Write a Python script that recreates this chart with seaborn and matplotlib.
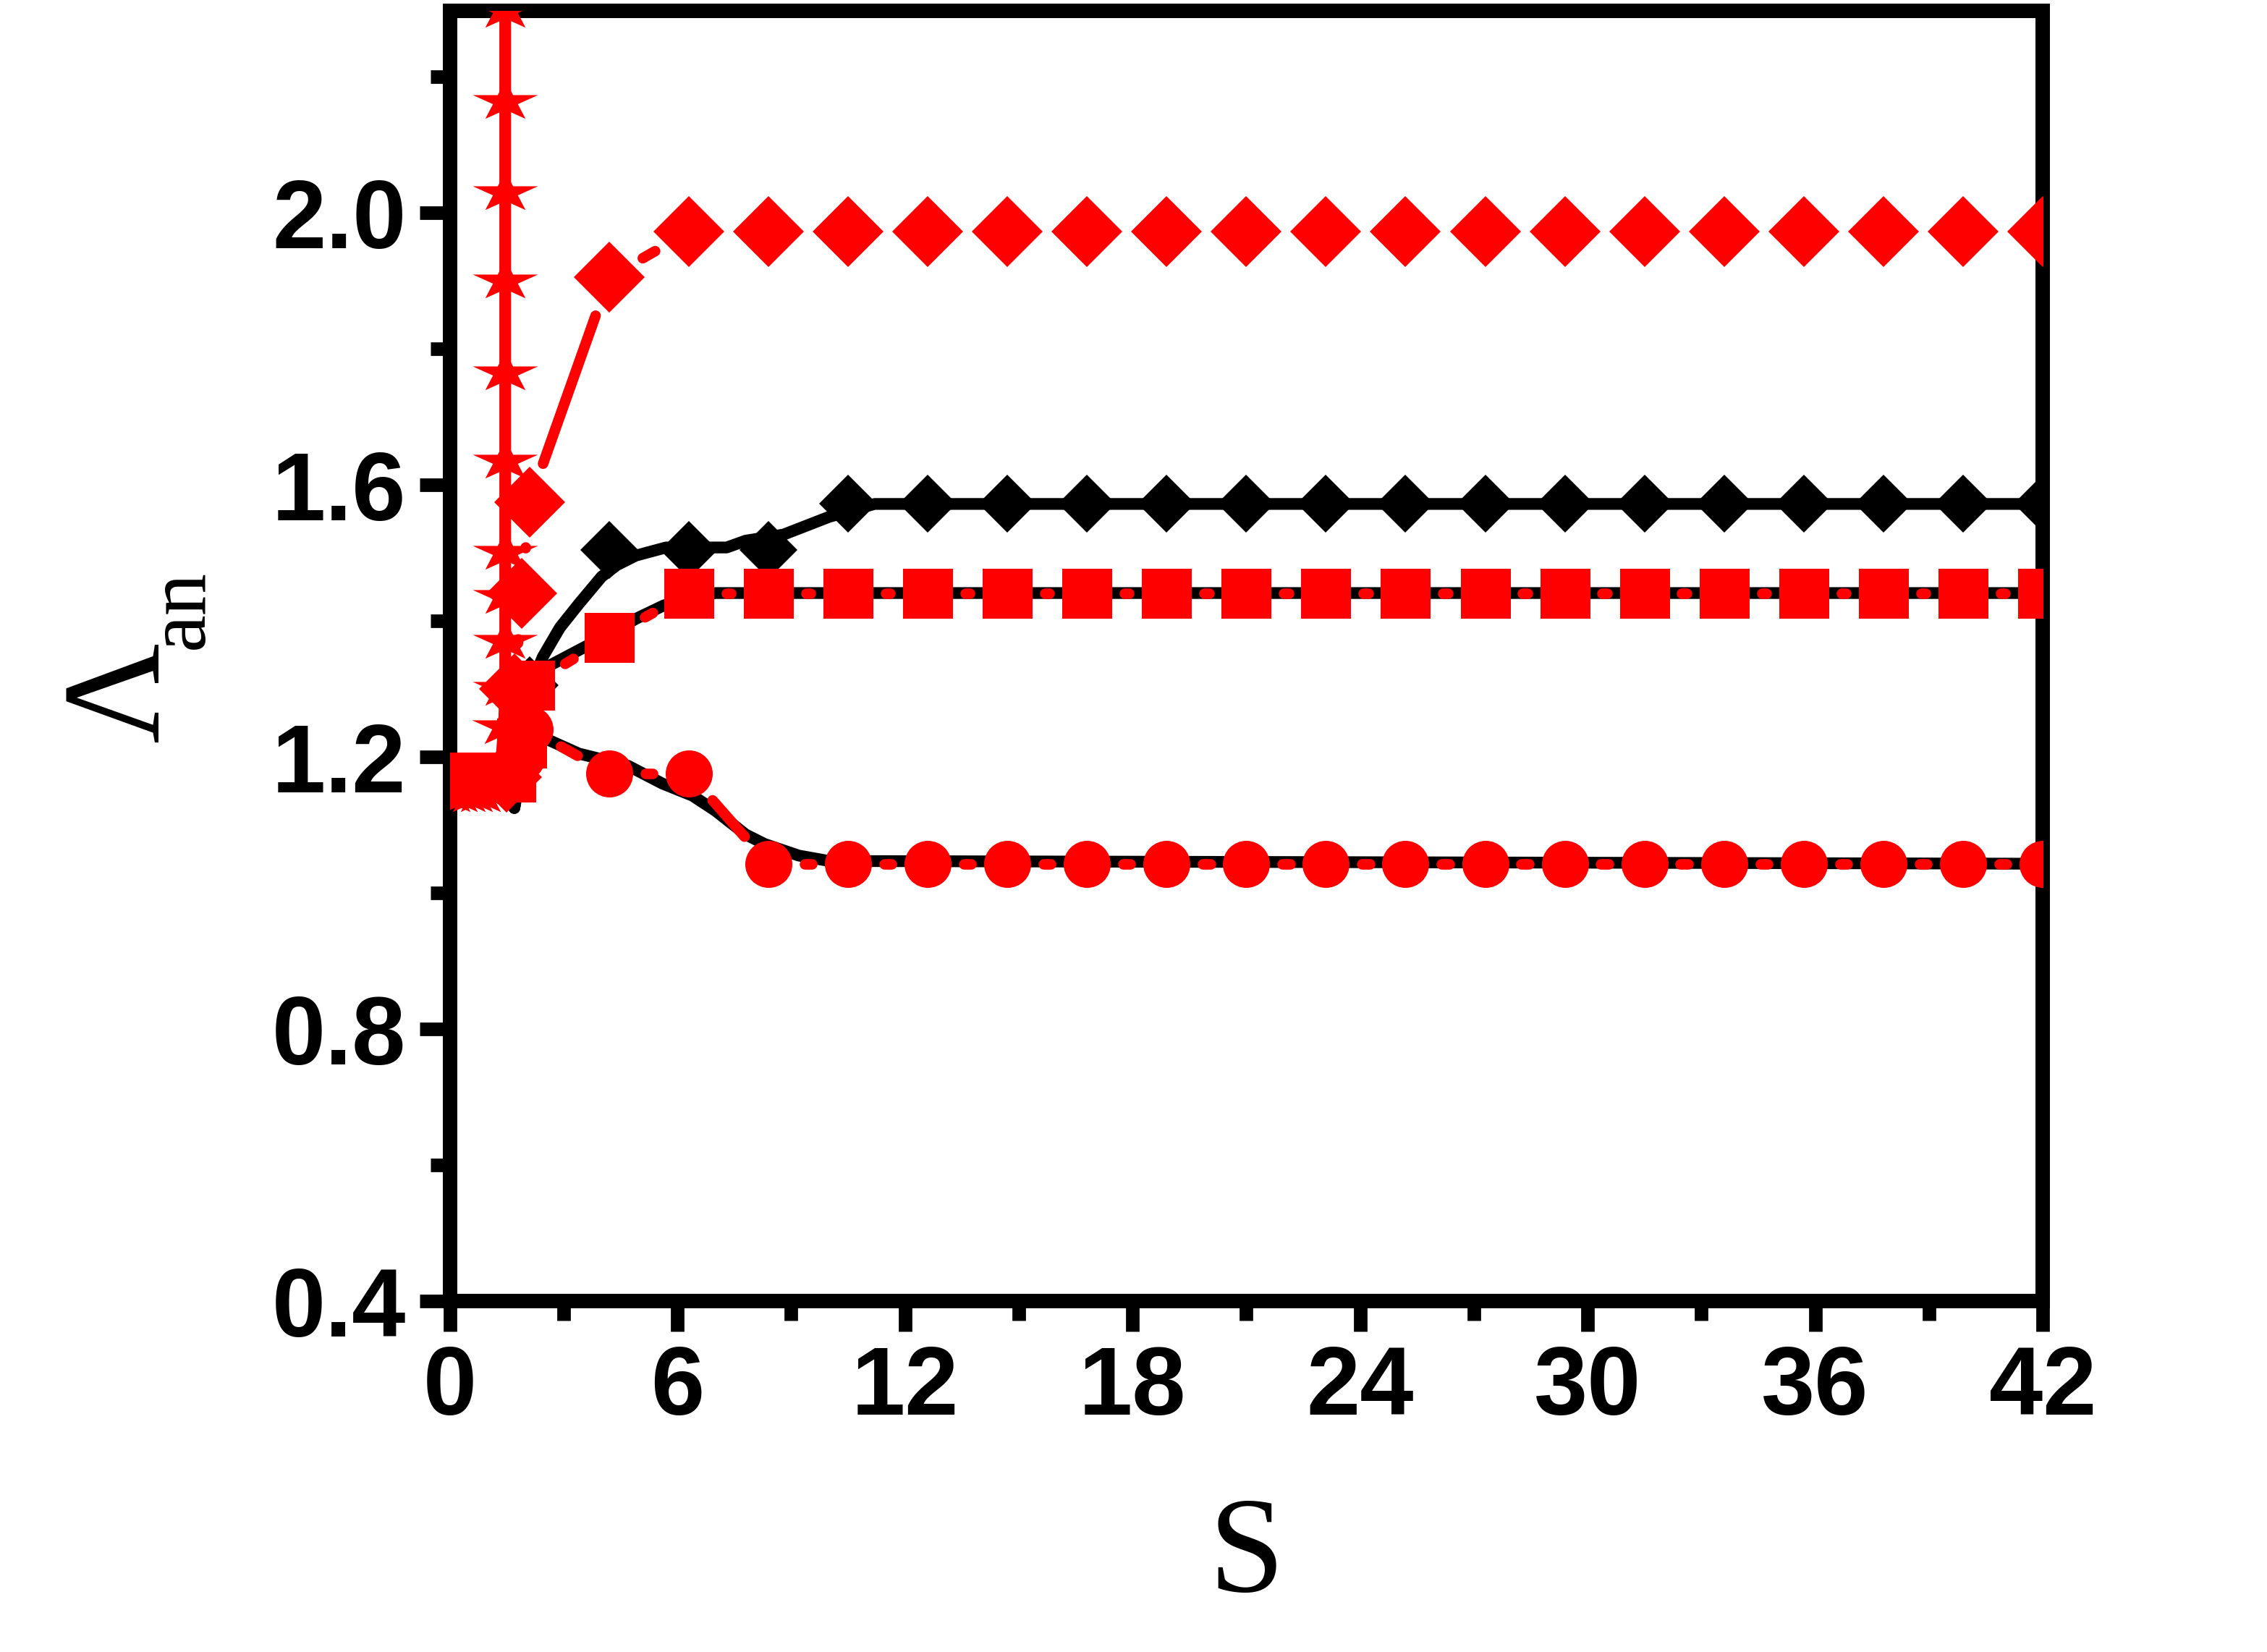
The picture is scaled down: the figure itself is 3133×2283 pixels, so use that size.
"""
Lambda_an versus S: black reference curves and red symbol series.
"""

import numpy as np
import matplotlib
matplotlib.use("Agg")
import matplotlib.pyplot as plt
from matplotlib.path import Path
from matplotlib.ticker import MultipleLocator, FormatStrFormatter
import seaborn as sns

# =========================
# DATA
# =========================

# common S grid of the plateau points
s_grid = [4.2, 6.3, 8.4, 10.5, 12.6, 14.7, 16.8, 18.9, 21.0, 23.1,
          25.2, 27.3, 29.4, 31.5, 33.6, 35.7, 37.8, 39.9, 42.0]

# red diamonds (upper branch)
red_diam_x = [1.5, 1.7, 1.9, 2.1] + s_grid
red_diam_y = [1.17, 1.30, 1.44, 1.575, 1.905] + [1.972] * 18

# black diamonds + their black curve
blk_diam_x = [2.1] + s_grid
blk_diam_y = [1.305, 1.504, 1.504, 1.504] + [1.572] * 16
blk_diam_line_x = [1.7, 2.1, 2.45, 2.9, 3.4, 4.0, 4.4, 4.9, 5.7, 7.3, 7.8, 8.8, 10.0, 11.2, 12.6, 42.0]
blk_diam_line_y = [1.125, 1.30, 1.347, 1.39, 1.425, 1.465, 1.482, 1.496, 1.508, 1.508, 1.518,
                   1.527, 1.553, 1.572, 1.572, 1.572]

# red squares + black curve below them
red_sq_x = [0.0, 0.4, 0.8, 1.2, 1.6, 1.9, 2.1] + s_grid
red_sq_y = [1.17, 1.17, 1.17, 1.17, 1.17, 1.22, 1.305, 1.376] + [1.441] * 18
blk_sq_line_x = [1.7, 2.1, 2.65, 3.5, 4.2, 4.9, 5.65, 7.0, 42.0]
blk_sq_line_y = [1.125, 1.30, 1.335, 1.36, 1.38, 1.403, 1.423, 1.441, 1.441]

# red circles + black curve below them
red_circ_x = [1.6, 1.9, 2.1] + s_grid
red_circ_y = [1.17, 1.20, 1.241, 1.176, 1.176] + [1.043] * 17
blk_circ_line_x = [1.7, 2.1, 2.6, 3.4, 4.7, 5.6, 6.4, 7.0, 7.8, 8.3, 9.2, 10.0, 42.0]
blk_circ_line_y = [1.125, 1.241, 1.225, 1.205, 1.187, 1.161, 1.143, 1.121, 1.086,
                   1.072, 1.055, 1.047, 1.043]

# red stars (diverging branch)
star_x = [0.0, 0.2, 0.4, 0.6, 0.8, 1.0, 1.2, 1.35, 1.43, 1.46,
          1.46, 1.46, 1.46, 1.46, 1.46, 1.46, 1.46, 1.46, 1.46, 1.46]
star_y = [1.145, 1.145, 1.145, 1.145, 1.145, 1.15, 1.17, 1.19, 1.245, 1.301,
          1.370, 1.436, 1.501, 1.635, 1.765, 1.900, 2.030, 2.164, 2.298, 2.43]

x_ticks_major = 6
x_ticks_minor = 3
y_ticks_major = 0.4
y_ticks_minor = 0.2

DPI = 300
PT = DPI / 72.0  # pixels per point

RED = "#ff0000"
BLACK = "#000000"
SERIF = ["Liberation Serif", "DejaVu Serif"]


def squashed_star(yscale=0.62):
    """Five-pointed star flattened vertically, like the original symbol."""
    k = np.arange(10)
    ang = np.deg2rad(90 + 36 * k)
    rad = np.where(k % 2 == 0, 1.0, 0.382)
    verts = np.column_stack([rad * np.cos(ang), rad * np.sin(ang) * yscale])
    verts = np.vstack([verts, verts[:1]])
    codes = [Path.MOVETO] + [Path.LINETO] * 9 + [Path.CLOSEPOLY]
    return Path(verts, codes)


def edge_dist(shape, half, ux, uy):
    """Distance from symbol centre to its outline along direction (ux, uy), px."""
    if shape == "s":
        return half / max(abs(ux), abs(uy))
    if shape == "D":
        return half / (abs(ux) + abs(uy))
    return half


def gapped_line(ax, xs, ys, shape, half_px, lw=3.5, gap_px=10, color=RED, zorder=2.4):
    """
    Connect points with a line that stops short of each symbol,
    the way Origin leaves a gap around symbols.
    """
    pts = ax.transData.transform(np.column_stack([xs, ys]))
    inv = ax.transData.inverted()
    cap = lw * PT / 2
    for p0, p1 in zip(pts[:-1], pts[1:]):
        d = p1 - p0
        L = np.hypot(*d)
        if L == 0:
            continue
        u = d / L
        t = edge_dist(shape, half_px, u[0], u[1]) + gap_px + cap
        if L <= 2 * t:
            continue
        seg = inv.transform(np.array([p0 + u * t, p1 - u * t]))
        ax.plot(seg[:, 0], seg[:, 1], color=color, lw=lw,
                solid_capstyle="round", zorder=zorder)


# =========================
# STYLE
# =========================

sns.set_style("ticks")
plt.rcParams["font.family"] = ["Liberation Sans", "DejaVu Sans"]

fig = plt.figure(figsize=(3133 / DPI, 2283 / DPI), dpi=DPI)
ax = fig.add_axes([621.7 / 3133, 1 - 1798 / 2283, 2201.3 / 3133, 1783 / 2283])
ax.set_xlim(0, 42)
ax.set_ylim(0.4, 2.297)

# =========================
# BLACK CURVES
# =========================

for lx, ly in [(blk_diam_line_x, blk_diam_line_y),
               (blk_sq_line_x, blk_sq_line_y),
               (blk_circ_line_x, blk_circ_line_y)]:
    sns.lineplot(x=lx, y=ly, ax=ax, color=BLACK, lw=3.9, sort=False,
                 estimator=None, zorder=2)

ax.plot(blk_diam_x, blk_diam_y, ls="none", marker="D", ms=56.6 / PT,
        mew=0, color=BLACK, zorder=2.2)

# =========================
# RED SERIES
# =========================

gapped_line(ax, red_diam_x, red_diam_y, "D", 49.5)
gapped_line(ax, red_sq_x, red_sq_y, "s", 34.5)
gapped_line(ax, red_circ_x, red_circ_y, "o", 32.5)

sns.lineplot(x=star_x, y=star_y, ax=ax, color=RED, lw=3.9, sort=False,
             estimator=None, zorder=2.4)

ax.plot(star_x, star_y, ls="none", marker=squashed_star(), ms=90 / PT,
        mew=0, color=RED, zorder=3)
ax.plot(red_diam_x, red_diam_y, ls="none", marker="D", ms=70 / PT,
        mew=0, color=RED, zorder=3)
ax.plot(red_circ_x, red_circ_y, ls="none", marker="o", ms=65 / PT,
        mew=0, color=RED, zorder=3)
ax.plot(red_sq_x, red_sq_y, ls="none", marker="s", ms=69 / PT,
        mew=0, color=RED, zorder=3)

# =========================
# AXES
# =========================

for sp in ax.spines.values():
    sp.set_visible(True)
    sp.set_linewidth(4.8)
    sp.set_color(BLACK)

ax.xaxis.set_major_locator(MultipleLocator(x_ticks_major))
ax.xaxis.set_minor_locator(MultipleLocator(x_ticks_minor))
ax.yaxis.set_major_locator(MultipleLocator(y_ticks_major))
ax.yaxis.set_minor_locator(MultipleLocator(y_ticks_minor))
ax.yaxis.set_major_formatter(FormatStrFormatter("%.1f"))

ax.tick_params(which="both", direction="out", top=False, right=False,
               width=4.5, color=BLACK, labelcolor=BLACK)
ax.tick_params(which="major", length=10, pad=4.5, labelsize=32)
ax.tick_params(which="minor", length=6.5)
for lbl in ax.get_xticklabels() + ax.get_yticklabels():
    lbl.set_fontweight("bold")

ax.set_xlabel("S", fontsize=45, color=BLACK, family=SERIF)
ax.xaxis.set_label_coords(0.5, -0.1516)

# y label: Λ with a deep "an" subscript
ax.set_ylabel("\u039b", fontsize=46, color=BLACK, family=SERIF)
ax.yaxis.label.set_verticalalignment("baseline")
ax.yaxis.set_label_coords(-0.1834, 0.472)
ax.text(-0.1552, 0.5053, "an", transform=ax.transAxes, rotation=90,
        rotation_mode="anchor", ha="left", va="baseline",
        fontsize=28, color=BLACK, family=SERIF)

fig.savefig("out.png", dpi=DPI)
plt.close(fig)
